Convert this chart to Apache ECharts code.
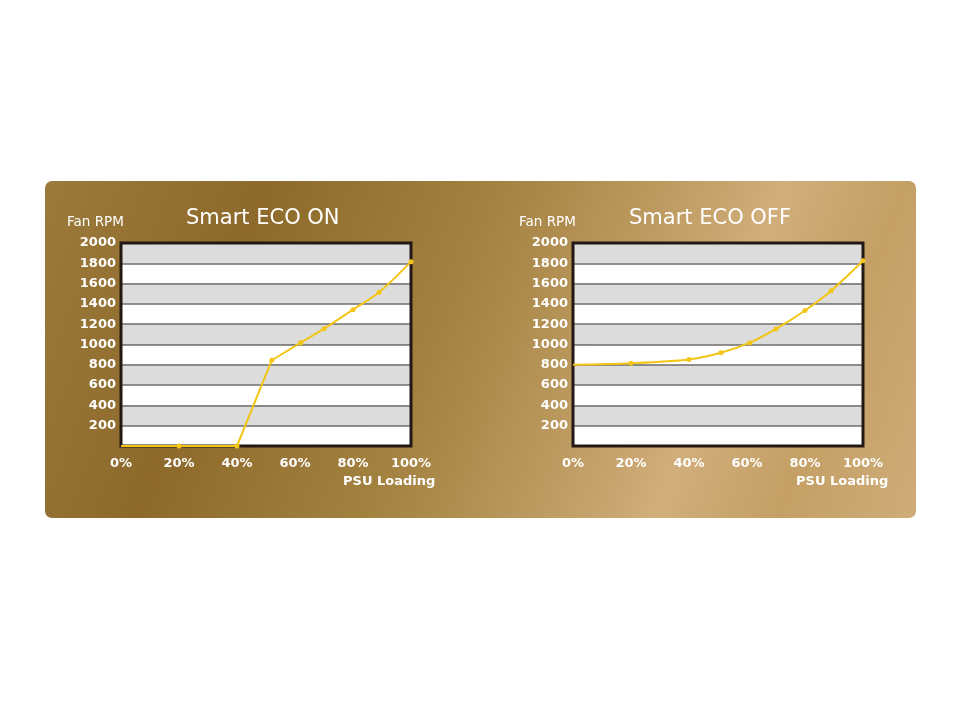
<!DOCTYPE html>
<html>
<head>
<meta charset="utf-8">
<script src="https://cdn.jsdelivr.net/npm/echarts@6/dist/echarts.min.js"></script>
<style>
  html, body { margin: 0; padding: 0; background: #fff; }
  #chart { width: 961px; height: 701px; }
</style>
</head>
<body>
<div id="chart"></div>
<script>
// PSU loading (%) and fan speed (RPM)
var ecoOnLoad = [0, 20, 40, 52, 62, 70, 80, 89, 100];
var ecoOnRpm = [0, 0, 0, 845, 1018, 1156, 1343, 1514, 1816];
var ecoOffLoad = [0, 20, 40, 51, 61, 70, 80, 89, 100];
var ecoOffRpm = [800, 815, 852, 919, 1018, 1153, 1335, 1530, 1826];
var rpmTicks = [0, 200, 400, 600, 800, 1000, 1200, 1400, 1600, 1800, 2000];
var loadTicks = [0, 20, 40, 60, 80, 100];

var lineColor = '#f2c516';
var font = 'DejaVu Sans';

function pairs(xs, ys) {
    return xs.map(function (x, i) {
        var item = { value: [x, ys[i]] };
        if (x === 0) item.symbol = 'none'; // first point hides under the frame
        return item;
    });
}

var chart = echarts.init(document.getElementById('chart'));

function yAxis(idx) {
    return {
        type: 'value', gridIndex: idx,
        min: rpmTicks[0], max: rpmTicks[rpmTicks.length - 1], interval: 200,
        axisLine: { show: false }, axisTick: { show: false },
        axisLabel: {
            color: '#fff', fontFamily: font, fontSize: 13, fontWeight: 'bold', margin: 5,
            formatter: function (v) { return v === 0 ? '' : v; }
        },
        splitLine: { lineStyle: { color: '#6e6e6e', width: 1.5 } },
        splitArea: { show: true, areaStyle: { color: ['#ffffff', '#dcdcdc'] } }
    };
}
function xAxis(idx) {
    return {
        type: 'value', gridIndex: idx,
        min: loadTicks[0], max: loadTicks[loadTicks.length - 1], interval: 20,
        axisLine: { show: false }, axisTick: { show: false }, splitLine: { show: false },
        axisLabel: {
            color: '#fff', fontFamily: font, fontSize: 13, fontWeight: 'bold', margin: 11,
            formatter: '{value}%'
        }
    };
}

var lineBase = {
    type: 'line',
    symbol: 'circle', symbolSize: 5,
    itemStyle: { color: lineColor },
    lineStyle: { color: lineColor, width: 2 },
    clip: false, z: 5
};

var onData = pairs(ecoOnLoad, ecoOnRpm);

var option = {
    animation: false,
    graphic: [
        {
            type: 'rect', z: -10,
            shape: { x: 45, y: 181, width: 871, height: 337, r: 7 },
            style: {
                fill: new echarts.graphic.LinearGradient(0, 0, 1, 1, [
                    { offset: 0, color: '#9c7a3b' },
                    { offset: 0.22, color: '#8d6a2b' },
                    { offset: 0.45, color: '#a3813f' },
                    { offset: 0.62, color: '#bd9a60' },
                    { offset: 0.74, color: '#d1ae7b' },
                    { offset: 0.86, color: '#c4a066' },
                    { offset: 1, color: '#cfac78' }
                ])
            }
        },
        { type: 'text', left: 67, top: 215, style: { text: 'Fan RPM', fill: '#fff', font: '13.5px "DejaVu Sans"' } },
        { type: 'text', left: 519, top: 215, style: { text: 'Fan RPM', fill: '#fff', font: '13.5px "DejaVu Sans"' } },
        { type: 'text', left: 186, top: 208, style: { text: 'Smart ECO ON', fill: '#fff', font: '21px "DejaVu Sans"' } },
        { type: 'text', left: 629, top: 208, style: { text: 'Smart ECO OFF', fill: '#fff', font: '21px "DejaVu Sans"' } },
        { type: 'text', left: 343, top: 475, style: { text: 'PSU Loading', fill: '#fff', font: 'bold 13px "DejaVu Sans"' } },
        { type: 'text', left: 796, top: 475, style: { text: 'PSU Loading', fill: '#fff', font: 'bold 13px "DejaVu Sans"' } }
    ],
    grid: [
        { left: 121, right: 550, top: 243, bottom: 255, show: true, backgroundColor: 'transparent', borderColor: '#231815', borderWidth: 3, z: 1 },
        { left: 573, right: 98, top: 243, bottom: 255, show: true, backgroundColor: 'transparent', borderColor: '#231815', borderWidth: 3, z: 1 }
    ],
    xAxis: [xAxis(0), xAxis(1)],
    yAxis: [yAxis(0), yAxis(1)],
    series: [
        Object.assign({}, lineBase, { xAxisIndex: 0, yAxisIndex: 0, smooth: false, data: onData.slice(0, 5) }),
        Object.assign({}, lineBase, { xAxisIndex: 0, yAxisIndex: 0, smooth: 0.3, data: onData.slice(4) }),
        Object.assign({}, lineBase, { xAxisIndex: 1, yAxisIndex: 1, smooth: 0.3, data: pairs(ecoOffLoad, ecoOffRpm) })
    ]
};

chart.setOption(option);
</script>
</body>
</html>
